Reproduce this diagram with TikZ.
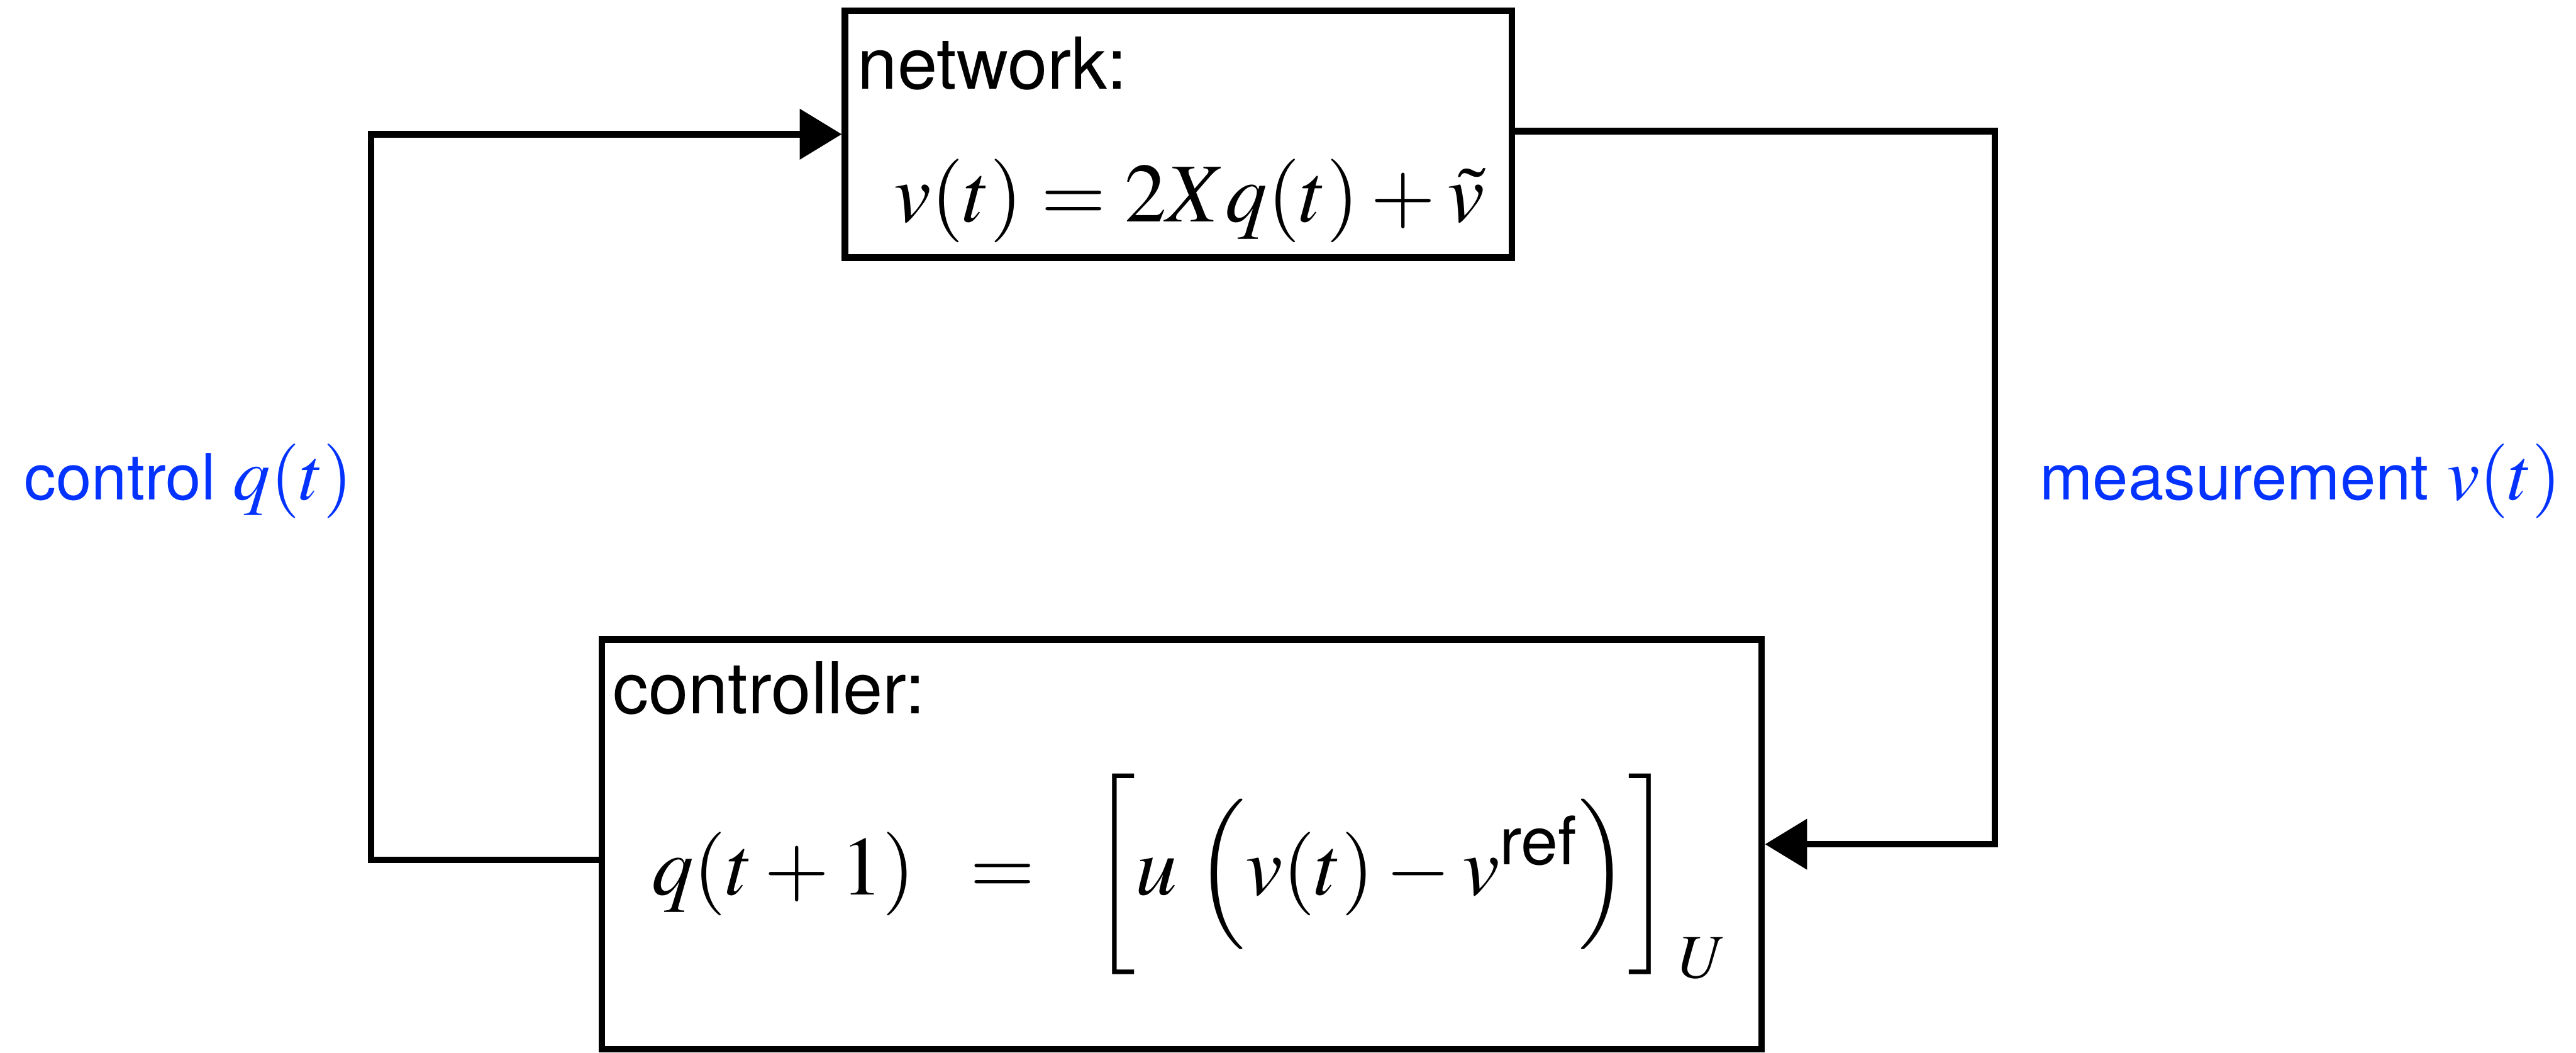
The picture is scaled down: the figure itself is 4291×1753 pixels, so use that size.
\documentclass[tikz,border=0pt]{standalone}
\usepackage{amsmath}
\usepackage{mathptmx}
\usepackage[no-math]{fontspec}
\setmainfont{TeX Gyre Heros}
\usetikzlibrary{arrows.meta,positioning}

\definecolor{labelblue}{RGB}{4,51,255}

% text and math sizes (1 unit of the picture = 0.01cm)
\newcommand{\boxtext}{\fontsize{33.9}{40}\selectfont}
\newcommand{\boxmath}{\fontsize{39.6}{47}\selectfont}
\newcommand{\labeltext}{\fontsize{30.2}{36}\selectfont}
\newcommand{\labelmath}{\fontsize{35.3}{42}\selectfont}

\tikzset{
  block/.style={draw=black, line width=0.11cm, rectangle, inner sep=0pt},
  blocktext/.style={inner sep=0pt, anchor=base west, font=\boxtext},
  flow/.style={draw=black, line width=0.11cm, -{Triangle[length=0.7cm,width=0.82cm]}},
  sig/.style={inner sep=0pt, anchor=base west, text=labelblue, font=\labeltext}
}

\begin{document}
\begin{tikzpicture}[x=0.01cm, y=-0.01cm]
\useasboundingbox (0,0) rectangle (4291,1753);

% the two blocks
\node[block, minimum width=11.1cm, minimum height=4.11cm] (network) at (1963,223.5) {};
\node[block, minimum width=19.31cm, minimum height=6.82cm] (controller) at (1968.5,1406) {};

% block contents
\node[blocktext] (nettitle) at ([xshift=0.26cm,yshift=-1.36cm]network.north west) {network:};
\node[blocktext] (neteq) at ([xshift=0.86cm,yshift=-3.57cm]network.north west)
  {\boxmath$v(t) = 2Xq(t) + \tilde{v}$};
\node[blocktext] (ctrltitle) at ([xshift=0.23cm,yshift=-1.29cm]controller.north west) {controller:};
\node[blocktext] (ctrleq) at ([xshift=0.88cm,yshift=-4.31cm]controller.north west)
  {\boxmath$q(t+1)\hspace{0.61cm}=\hspace{0.62cm}\biggl[u\;\Bigl(v(t)-v^{\mbox{\fontsize{31.6}{32}\selectfont ref}}\Bigr)\biggr]_{\,U}$};

% feedback rails
\coordinate (leftrail) at (618,800);
\coordinate (rightrail) at (3323,800);

% signal labels
\node[sig] (ctrllabel) at (40,832) {control {\labelmath$q(t)$}};
\node[sig] (measlabel) at (3397,832) {measurement {\labelmath$v(t)$}};

% connectors
\draw[flow] ([yshift=-0.26cm]controller.west) -| (leftrail) |- (network.west);
\draw[flow] ([yshift=0.05cm]network.east) -| (rightrail) |- (controller.east);
\end{tikzpicture}
\end{document}
